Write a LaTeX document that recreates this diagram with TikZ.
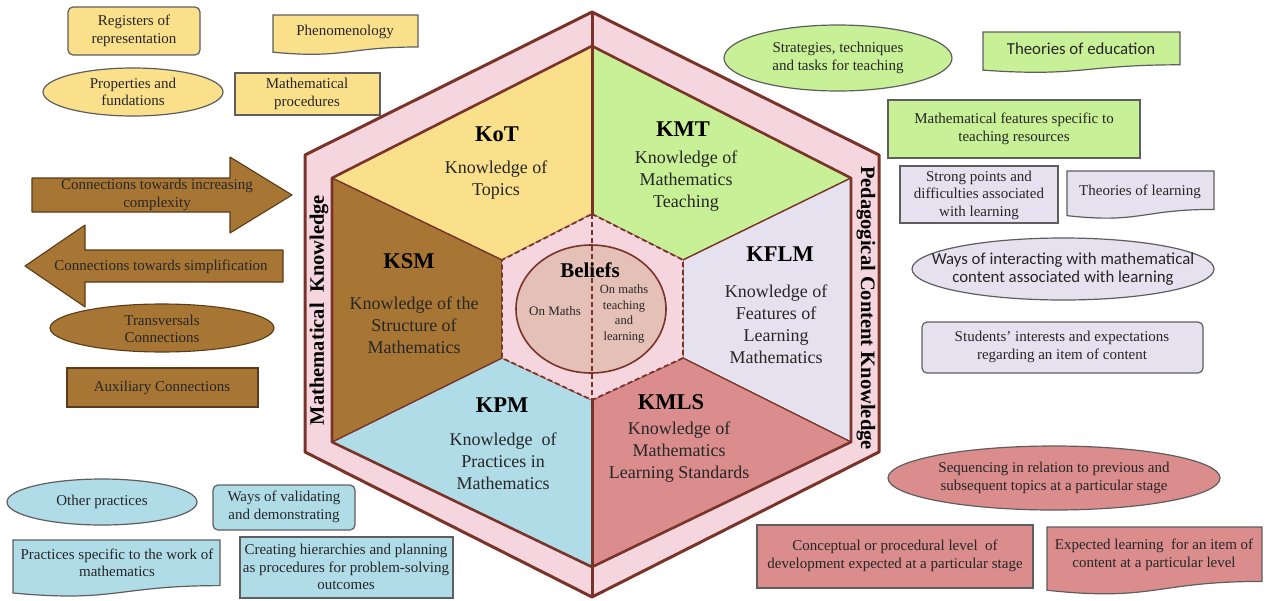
\documentclass[tikz,border=0pt]{standalone}
\usepackage{fontspec}
\setmainfont{Liberation Serif}
\newfontfamily\carlitofont{Carlito}
\usetikzlibrary{shapes.geometric}

\definecolor{yelF}{HTML}{FBE08C}
\definecolor{grnF}{HTML}{C8F096}
\definecolor{lavF}{HTML}{E6E1EE}
\definecolor{redF}{HTML}{DA8D8C}
\definecolor{bluF}{HTML}{B0DCE8}
\definecolor{brnF}{HTML}{A87634}
\definecolor{bandF}{HTML}{F6D6DE}
\definecolor{circF}{HTML}{E4C0B6}
\definecolor{edgeC}{HTML}{7A3328}
\definecolor{boxEdge}{HTML}{5E5E5E}
\definecolor{brnEdge}{HTML}{5A3A18}
\definecolor{txtC}{HTML}{262626}

% document-like shape with wavy bottom: x1, ytop, x2, ybottom, style
\newcommand\mkdoc[5]{\filldraw[#5] (#1,#2) -- (#3,#2) -- (#3,{#2+0.8*(#4-#2)}) .. controls ({(#1+#3)/2},{#2+0.8*(#4-#2)}) and ({(#1+#3)/2},{#2+1.1*(#4-#2)}) .. (#1,{#2+0.93*(#4-#2)}) -- cycle;}

\begin{document}
\begin{tikzpicture}[x=1pt,y=-1pt,
  bx/.style={line width=1.2pt,draw=boxEdge},
  btxt/.style={font=\fontsize{15}{17.5}\selectfont,align=center,text=txtC,inner sep=0pt},
  ctxt/.style={font=\carlitofont\fontsize{16.8}{18.5}\selectfont,align=center,text=txtC,inner sep=0pt},
  ttl/.style={font=\bfseries\fontsize{22.5}{26}\selectfont,text=black,inner sep=0pt},
  bdy/.style={font=\fontsize{18}{22}\selectfont,align=center,text=txtC,inner sep=0pt},
  side/.style={font=\bfseries\fontsize{20.5}{24}\selectfont,text=black,inner sep=0pt},
  sector/.style={draw=edgeC,line width=1.3pt,line join=round}]

\useasboundingbox (0,0) rectangle (1268,600);
\fill[white] (0,0) rectangle (1268,600);

% ---------- hexagon geometry ----------
\coordinate (OT) at (592,12);
\coordinate (OUR) at (879,155);
\coordinate (OLR) at (879,452);
\coordinate (OB) at (592,597);
\coordinate (OLL) at (305,452);
\coordinate (OUL) at (305,155);

\coordinate (IT) at (592,46);
\coordinate (IUR) at (851,178);
\coordinate (ILR) at (851,442);
\coordinate (IB) at (592,567);
\coordinate (ILL) at (332,442);
\coordinate (IUL) at (332,178);

\coordinate (CT) at (592,214);
\coordinate (CUR) at (683,260);
\coordinate (CLR) at (683,358);
\coordinate (CB) at (592,400);
\coordinate (CLL) at (502,358);
\coordinate (CUL) at (502,260);

\fill[bandF] (OT)--(OUR)--(OLR)--(OB)--(OLL)--(OUL)--cycle;

\filldraw[fill=yelF,sector] (IT)--(CT)--(CUL)--(IUL)--cycle;
\filldraw[fill=grnF,sector] (IT)--(IUR)--(CUR)--(CT)--cycle;
\filldraw[fill=lavF,sector] (IUR)--(ILR)--(CLR)--(CUR)--cycle;
\filldraw[fill=redF,sector] (ILR)--(IB)--(CB)--(CLR)--cycle;
\filldraw[fill=bluF,sector] (IB)--(ILL)--(CLL)--(CB)--cycle;
\filldraw[fill=brnF,sector] (ILL)--(IUL)--(CUL)--(CLL)--cycle;

\fill[bandF] (CT)--(CUR)--(CLR)--(CB)--(CLL)--(CUL)--cycle;
\draw[edgeC,line width=1.8pt,dash pattern=on 5pt off 3pt] (CT)--(CUR)--(CLR)--(CB)--(CLL)--(CUL)--cycle;
\filldraw[fill=circF,draw=edgeC,line width=1.6pt] (591,309) ellipse [x radius=75pt, y radius=64pt];
\draw[edgeC,line width=1.8pt,dash pattern=on 5pt off 3pt] (CT)--(CB);

\draw[edgeC,line width=3pt,line join=round] (OT)--(OUR)--(OLR)--(OB)--(OLL)--(OUL)--cycle;
\draw[edgeC,line width=2.6pt,line join=round] (IT)--(IUR)--(ILR)--(IB)--(ILL)--(IUL)--cycle;
\draw[edgeC,line width=3pt] (OT)--(CT) (CB)--(OB);

% ---------- hexagon texts ----------
\node[ttl] (kot) at (497,134) {KoT};
\node[bdy] (kotb) at (496,180) {Knowledge of\\Topics};
\node[ttl] (kmt) at (683,129) {KMT};
\node[bdy] (kmtb) at (686,181) {Knowledge of\\Mathematics\\Teaching};
\node[ttl] (ksm) at (409,261) {KSM};
\node[bdy] (ksmb) at (414,325) {Knowledge of the\\Structure of\\Mathematics};
\node[ttl] (kflm) at (780,254) {KFLM};
\node[bdy] (kflmb) at (776,324) {Knowledge of\\Features of\\Learning\\Mathematics};
\node[ttl] (kpm) at (502,405) {KPM};
\node[bdy] (kpmb) at (503,461) {Knowledge~~of\\Practices in\\Mathematics};
\node[ttl] (kmls) at (671,402) {KMLS};
\node[bdy] (kmlsb) at (679,452) {Knowledge of\\Mathematics\\Learning Standards};

\node[font=\bfseries\fontsize{21}{24}\selectfont,inner sep=0pt] (beliefs) at (590,270) {Beliefs};
\node[font=\fontsize{13}{15.5}\selectfont,text=txtC,inner sep=0pt] (onmaths) at (555,311) {On Maths};
\node[font=\fontsize{12.5}{15.5}\selectfont,align=center,text=txtC,inner sep=0pt] (onteach) at (624,314) {On maths\\teaching\\and\\learning};

\node[side,rotate=90] (mk) at (319,310) {Mathematical~~Knowledge};
\node[side,rotate=-90] (pck) at (866,308) {Pedagogical Content Knowledge};

% ---------- yellow boxes (KoT) ----------
\filldraw[fill=yelF,bx,rounded corners=5pt] (68,7) rectangle (200,55);
\node[btxt] (reg) at (134,31) {Registers of\\representation};
\mkdoc{273}{15}{418}{55}{fill=yelF,bx}
\node[btxt] (phen) at (345,32) {Phenomenology};
\filldraw[fill=yelF,bx] (133,92) ellipse [x radius=90pt, y radius=24pt];
\node[btxt] (prop) at (133,92) {Properties and\\fundations};
\filldraw[fill=yelF,bx] (235,73) rectangle (380,115);
\node[btxt] (proc) at (307,94) {Mathematical\\procedures};

% ---------- green boxes (KMT) ----------
\filldraw[fill=grnF,bx] (838,58) ellipse [x radius=114pt, y radius=33pt];
\node[btxt] (strat) at (838,58) {Strategies, techniques\\and tasks for teaching};
\mkdoc{983}{32}{1180}{73}{fill=grnF,bx}
\node[ctxt] (theoed) at (1081,49) {Theories of education};
\filldraw[fill=grnF,bx] (888,100) rectangle (1140,158);
\node[btxt] (feat) at (1014,129) {Mathematical features specific to\\teaching resources};

% ---------- lavender boxes (KFLM) ----------
\filldraw[fill=lavF,bx] (900,166) rectangle (1058,223);
\node[btxt] (strong) at (979,195) {Strong points and\\difficulties associated\\with learning};
\mkdoc{1067}{171}{1214}{219}{fill=lavF,bx}
\node[btxt] (theolearn) at (1140,192) {Theories of learning};
\filldraw[fill=lavF,bx] (1063,269) ellipse [x radius=151pt, y radius=31pt];
\node[ctxt] (ways) at (1063,269) {Ways of interacting with mathematical\\content associated with learning};
\filldraw[fill=lavF,bx,rounded corners=5pt] (922,322) rectangle (1203,373);
\node[btxt] (interests) at (1062,347) {Students' interests and expectations\\regarding an item of content};

% ---------- red boxes (KMLS) ----------
\filldraw[fill=redF,bx] (1054,478) ellipse [x radius=166pt, y radius=32pt];
\node[btxt] (seq) at (1054,478) {Sequencing in relation to previous and\\subsequent topics at a particular stage};
\filldraw[fill=redF,bx] (757,525) rectangle (1033,588);
\node[btxt] (concept) at (895,556) {Conceptual or procedural level~~of\\development expected at a particular stage};
\mkdoc{1047}{527}{1262}{595}{fill=redF,bx}
\node[btxt] (expect) at (1154,555) {Expected learning~~for an item of\\content at a particular level};

% ---------- blue boxes (KPM) ----------
\filldraw[fill=bluF,bx] (102,502) ellipse [x radius=95pt, y radius=23pt];
\node[btxt] (other) at (102,502) {Other practices};
\filldraw[fill=bluF,bx,rounded corners=5pt] (213,485) rectangle (355,530);
\node[btxt] (valid) at (284,507) {Ways of validating\\and demonstrating};
\mkdoc{13}{540}{220}{597}{fill=bluF,bx}
\node[btxt] (pspec) at (117,563) {Practices specific to the work of\\mathematics};
\filldraw[fill=bluF,bx] (240,537) rectangle (453,598);
\node[btxt] (hier) at (346,567) {Creating hierarchies and planning\\as procedures for problem-solving\\outcomes};

% ---------- brown shapes (KSM) ----------
\filldraw[fill=brnF,draw=brnEdge,line width=1.1pt,line join=round]
  (32,178)--(230,178)--(230,157)--(292,195)--(230,233)--(230,212)--(32,212)--cycle;
\node[btxt] (inc) at (157,195) {Connections towards increasing\\complexity};
\filldraw[fill=brnF,draw=brnEdge,line width=1.1pt,line join=round]
  (283,250)--(85,250)--(85,225)--(25,266)--(85,307)--(85,282)--(283,282)--cycle;
\node[btxt] (simp) at (161,267) {Connections towards simplification};
\filldraw[fill=brnF,draw=brnEdge,line width=1.1pt] (162,328) ellipse [x radius=112pt, y radius=24pt];
\node[btxt] (trans) at (162,329) {Transversals\\Connections};
\filldraw[fill=brnF,draw=brnEdge,line width=1.1pt] (67,368) rectangle (258,407);
\node[btxt] (aux) at (162,388) {Auxiliary Connections};

\end{tikzpicture}
\end{document}
